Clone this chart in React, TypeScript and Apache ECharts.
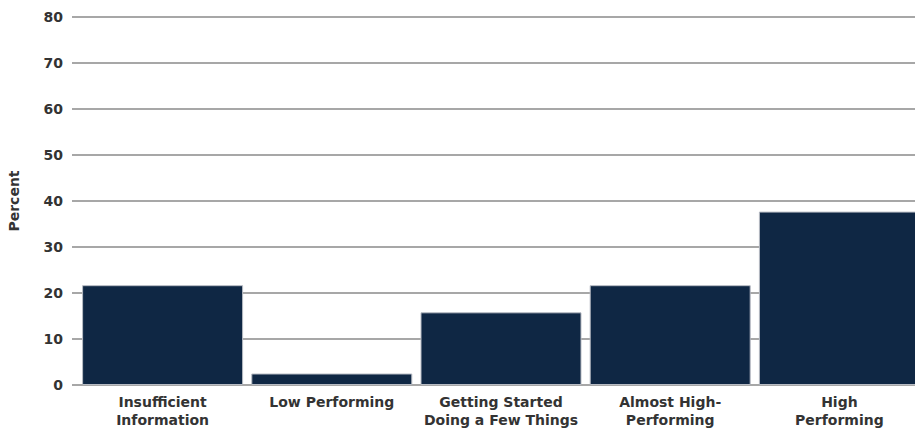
import React, { useEffect, useRef } from "react";
import * as echarts from "echarts";

const categories = [
  "Insufficient\nInformation",
  "Low Performing",
  "Getting Started\nDoing a Few Things",
  "Almost High-\nPerforming",
  "High\nPerforming",
];
const values = [21.7, 2.5, 15.8, 21.7, 37.7];
const yTicks = [0, 10, 20, 30, 40, 50, 60, 70, 80];

export default function App() {
  const ref = useRef<HTMLDivElement>(null);
  useEffect(() => {
    document.body.style.margin = "0";
    const chart = echarts.init(ref.current!, null, { renderer: "svg" });
    const font = "'DejaVu Sans', sans-serif";
    chart.setOption({
      animation: false,
      backgroundColor: "#ffffff",
      grid: {
        left: 78,
        top: 17,
        width: 846,
        height: 368,
        containLabel: false,
        outerBoundsMode: "none",
      },
      xAxis: {
        type: "category",
        data: categories,
        axisLine: { show: false },
        axisTick: { show: false },
        axisLabel: {
          interval: 0,
          margin: 8,
          color: "#333333",
          fontFamily: font,
          fontWeight: "bold",
          fontSize: 14,
          lineHeight: 18,
        },
      },
      yAxis: {
        type: "value",
        min: yTicks[0],
        max: yTicks[yTicks.length - 1],
        interval: 10,
        name: "Percent",
        nameLocation: "middle",
        nameGap: 57,
        nameRotate: 90,
        nameTextStyle: {
          color: "#333333",
          fontFamily: font,
          fontWeight: "bold",
          fontSize: 14,
        },
        axisLine: { show: false },
        axisTick: { show: true, length: 6, lineStyle: { color: "#8a8a8a", width: 1.5 } },
        splitLine: { show: true, lineStyle: { color: "#8a8a8a", width: 1.5 } },
        axisLabel: {
          margin: 15,
          color: "#333333",
          fontFamily: font,
          fontWeight: "bold",
          fontSize: 14,
        },
      },
      series: [
        {
          type: "bar",
          data: values,
          barWidth: 161,
          itemStyle: { color: "#0f2744", borderColor: "#b8bcc4", borderWidth: 1 },
        },
      ],
    });
    return () => chart.dispose();
  }, []);
  return (
    <div
      ref={ref}
      style={{ position: "fixed", left: 0, top: 0, width: 915, height: 436 }}
    />
  );
}
